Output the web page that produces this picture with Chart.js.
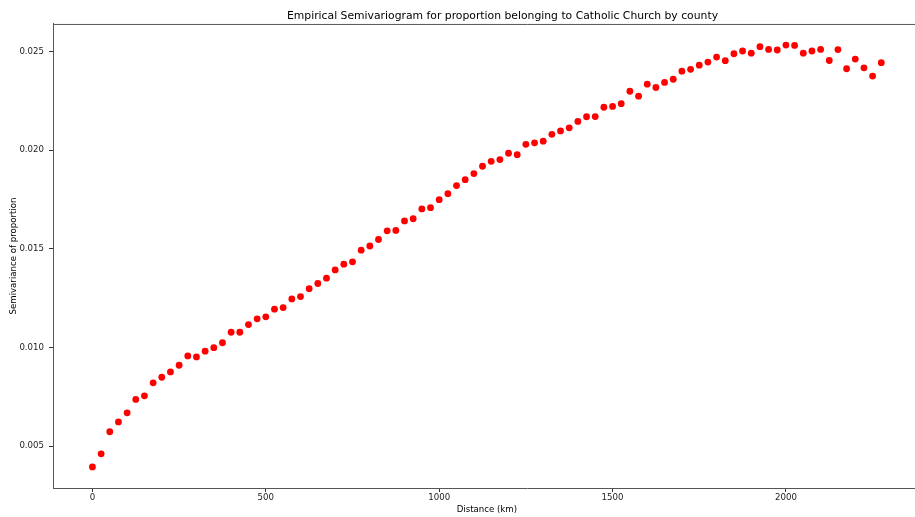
<!DOCTYPE html>
<html>
<head>
<meta charset="utf-8">
<script src="https://cdn.jsdelivr.net/npm/chart.js@4"></script>
<style>
  html, body { margin: 0; padding: 0; background: #fff; overflow: hidden; }
  #clip { width: 915px; height: 517px; overflow: hidden; position: relative; }
  #chart { display: block; }
</style>
</head>
<body>
<div id="clip"><canvas id="chart" width="1005" height="517"></canvas></div>
<script>
// lag distances (km)
var distances = [
    0, 25, 50, 75, 100, 125, 150, 175, 200, 225,
    250, 275, 300, 325, 350, 375, 400, 425, 450, 475,
    500, 525, 550, 575, 600, 625, 650, 675, 700, 725,
    750, 775, 800, 825, 850, 875, 900, 925, 950, 975,
    1000, 1025, 1050, 1075, 1100, 1125, 1150, 1175, 1200, 1225,
    1250, 1275, 1300, 1325, 1350, 1375, 1400, 1425, 1450, 1475,
    1500, 1525, 1550, 1575, 1600, 1625, 1650, 1675, 1700, 1725,
    1750, 1775, 1800, 1825, 1850, 1875, 1900, 1925, 1950, 1975,
    2000, 2025, 2050, 2075, 2100, 2125, 2150, 2175, 2200, 2225,
    2250, 2275
];

// empirical semivariance at each lag
var semivariance = [
    0.00395, 0.00461, 0.00573, 0.00623, 0.00669, 0.00737, 0.00755, 0.00821, 0.00849, 0.00876,
    0.00910, 0.00957, 0.00952, 0.00981, 0.00999, 0.01024, 0.01077, 0.01077, 0.01116, 0.01145,
    0.01155, 0.01194, 0.01202, 0.01246, 0.01258, 0.01298, 0.01324, 0.01351, 0.01393, 0.01422,
    0.01434, 0.01493, 0.01514, 0.01547, 0.01591, 0.01593, 0.01641, 0.01652, 0.01702, 0.01708,
    0.01749, 0.01779, 0.01820, 0.01850, 0.01881, 0.01918, 0.01943, 0.01952, 0.01984, 0.01977,
    0.02029, 0.02037, 0.02045, 0.02080, 0.02097, 0.02113, 0.02145, 0.02169, 0.02170, 0.02217,
    0.02221, 0.02235, 0.02298, 0.02273, 0.02334, 0.02317, 0.02343, 0.02359, 0.02400, 0.02409,
    0.02430, 0.02446, 0.02471, 0.02453, 0.02488, 0.02502, 0.02491, 0.02524, 0.02510, 0.02507,
    0.02532, 0.02530, 0.02491, 0.02502, 0.02510, 0.02454, 0.02509, 0.02412, 0.02461, 0.02417,
    0.02375, 0.02443
];

var xTicks = [0, 500, 1000, 1500, 2000];
var yTicks = [0.005, 0.010, 0.015, 0.020, 0.025];

var titleText = 'Empirical Semivariogram for proportion belonging to Catholic Church by county';
var xLabel = 'Distance (km)';
var yLabel = 'Semivariance of proportion';

var points = [];
for (var i = 0; i < distances.length; i++) {
    points.push({ x: distances[i], y: semivariance[i] });
}

Chart.defaults.font.family = '"DejaVu Sans", sans-serif';
Chart.defaults.color = '#222';

// top frame line + x label centred on the original axes span (which runs off-canvas)
var frameBox = {
    id: 'frameBox',
    afterDraw: function (chart) {
        var a = chart.chartArea;
        var ctx = chart.ctx;
        var xs = chart.scales.x;
        ctx.save();
        ctx.strokeStyle = '#555';
        ctx.lineWidth = 1;
        ctx.beginPath();
        ctx.moveTo(a.left, a.top + 0.5);
        ctx.lineTo(a.right, a.top + 0.5);
        ctx.stroke();

        var mid = xs.getPixelForValue((-113.75 + 2388.75) / 2);
        ctx.fillStyle = '#000';
        ctx.font = '8.6px "DejaVu Sans", sans-serif';
        ctx.textAlign = 'center';
        ctx.textBaseline = 'middle';
        ctx.fillText(xLabel, mid, a.bottom + 21.5);
        ctx.restore();
    }
};

var config = {
    type: 'scatter',
    data: {
        datasets: [{
            data: points,
            backgroundColor: '#ff0000',
            borderWidth: 0,
            pointRadius: 3.4,
            pointHoverRadius: 3.4
        }]
    },
    options: {
        responsive: false,
        animation: false,
        layout: { padding: 0 },
        plugins: {
            legend: { display: false },
            tooltip: { enabled: false },
            title: {
                display: true,
                text: titleText,
                color: '#000',
                font: { size: 10.8, weight: 'normal' },
                padding: { top: 10, bottom: 1 }
            }
        },
        scales: {
            x: {
                type: 'linear',
                // plot runs past the right edge of the picture, as in the original
                min: -113.75,
                max: 2622,
                afterFit: function (s) { s.height = 29; },
                afterBuildTicks: function (s) {
                    s.ticks = xTicks.map(function (v) { return { value: v }; });
                },
                ticks: {
                    font: { size: 8.6 },
                    padding: 1,
                    maxRotation: 0,
                    callback: function (v) { return String(v); }
                },
                grid: {
                    display: true,
                    drawOnChartArea: false,
                    drawTicks: true,
                    tickLength: 4,
                    color: '#333'
                },
                border: { display: true, color: '#555', width: 1 },
                title: { display: false }
            },
            y: {
                type: 'linear',
                min: 0.00288,
                max: 0.02639,
                afterFit: function (s) { s.width = 53; },
                afterBuildTicks: function (s) {
                    s.ticks = yTicks.map(function (v) { return { value: v }; });
                },
                ticks: {
                    font: { size: 8.6 },
                    padding: 5,
                    callback: function (v) { return v.toFixed(3); }
                },
                grid: {
                    display: true,
                    drawOnChartArea: false,
                    drawTicks: true,
                    tickLength: 4,
                    color: '#333'
                },
                border: { display: true, color: '#555', width: 1 },
                title: {
                    display: true,
                    text: yLabel,
                    color: '#000',
                    font: { size: 8.6 },
                    padding: { top: 9, bottom: 0 }
                }
            }
        }
    },
    plugins: [frameBox]
};

new Chart(document.getElementById('chart'), config);
</script>
</body>
</html>
